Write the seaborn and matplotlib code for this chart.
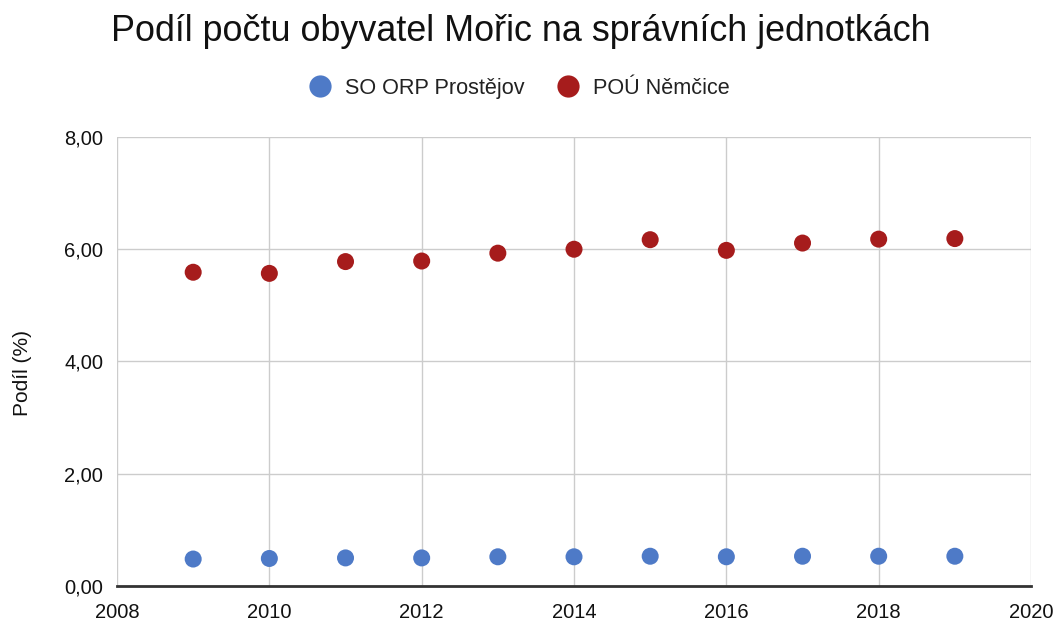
import numpy as np
import pandas as pd
import matplotlib
matplotlib.use('Agg')
import matplotlib.pyplot as plt
import seaborn as sns
from matplotlib.ticker import FuncFormatter

# data
years = [2009, 2010, 2011, 2012, 2013, 2014, 2015, 2016, 2017, 2018, 2019]
so_orp = [0.48, 0.49, 0.50, 0.50, 0.52, 0.52, 0.53, 0.52, 0.53, 0.53, 0.53]
pou = [5.59, 5.57, 5.78, 5.79, 5.93, 6.00, 6.17, 5.98, 6.11, 6.18, 6.19]
series_names = ['SO ORP Prostějov', 'POÚ Němčice']
colors = ['#4e7ac7', '#a61c1c']

df = pd.DataFrame({
    'rok': years * 2,
    'podil': so_orp + pou,
    'serie': [series_names[0]] * len(years) + [series_names[1]] * len(years),
})

sns.set_style('white')
plt.rcParams['font.family'] = ['Liberation Sans', 'DejaVu Sans']

fig = plt.figure(figsize=(10.58, 6.21), dpi=100)
ax = fig.add_axes([0.1106, 0.0564, 0.8639, 0.7230])

sns.scatterplot(data=df, x='rok', y='podil', hue='serie', palette=colors,
                s=150, edgecolor='none', ax=ax, legend=False, zorder=3)

ax.set_xlim(2008, 2020)
ax.set_ylim(0, 8)
ax.set_xticks(range(2008, 2021, 2))
ax.set_yticks([0, 2, 4, 6, 8])
ax.yaxis.set_major_formatter(FuncFormatter(lambda v, p: f'{v:.2f}'.replace('.', ',')))
ax.grid(True, color='#cccccc', linewidth=1)
ax.set_axisbelow(True)
for side in ['top', 'right', 'left']:
    ax.spines[side].set_visible(False)
ax.spines['bottom'].set_color('#333333')
ax.spines['bottom'].set_linewidth(2)
ax.tick_params(axis='both', length=0, labelsize=14.5, colors='#111111')
ax.tick_params(axis='y', pad=10)
ax.tick_params(axis='x', pad=12)
ax.set_xlabel('')
ax.set_ylabel('Podíl (%)', fontsize=15, color='#111111')
ax.yaxis.set_label_coords(-0.093, 0.474)

fig.text(0.492, 0.950, 'Podíl počtu obyvatel Mořic na správních jednotkách',
         ha='center', va='center', fontsize=25.8, color='#111111')

handles = [plt.Line2D([], [], marker='o', linestyle='', markersize=16,
                      markerfacecolor=c, markeredgecolor='none') for c in colors]
fig.legend(handles, series_names, loc='center', bbox_to_anchor=(0.486, 0.858),
           ncol=2, frameon=False, fontsize=15.6, handletextpad=0.15, columnspacing=1.0,
           labelcolor='#222222')

fig.savefig('out.png', dpi=100)
